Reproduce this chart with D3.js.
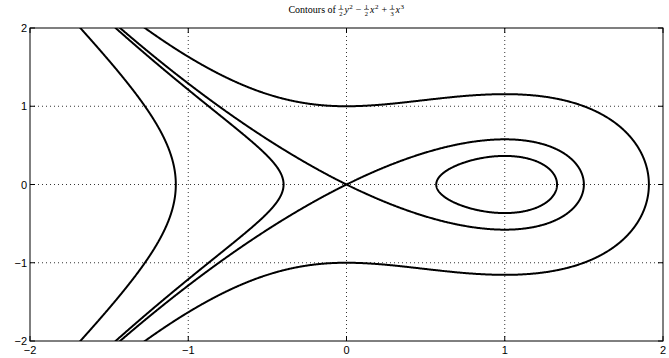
<!DOCTYPE html>
<html>
<head>
<meta charset="utf-8">
<script src="https://cdn.jsdelivr.net/npm/d3@7"></script>
<style>
  body { margin: 0; background: #fff; }
  svg { display: block; }
  .tick-label { font-family: "Liberation Sans", Arial, sans-serif; font-size: 11px; fill: #000; }
  .title { font-family: "Liberation Serif", "DejaVu Serif", serif; font-size: 10px; fill: #000; }
</style>
</head>
<body>
<div id="chart"></div>
<script>
// contour levels of H(x,y) = y^2/2 - x^2/2 + x^3/3
const levels = [-1, -0.1, 0, 0.5];
const xTicks = [-2, -1, 0, 1, 2];
const yTicks = [-2, -1, 0, 1, 2];
const xDomain = [-2, 2];
const yDomain = [-2, 2];

const width = 669;
const height = 358;
const margin = { top: 28, right: 6, bottom: 17, left: 30 };

const svg = d3.select("#chart").append("svg")
  .attr("width", width)
  .attr("height", height);

const x = d3.scaleLinear().domain(xDomain).range([margin.left, width - margin.right]);
const y = d3.scaleLinear().domain(yDomain).range([height - margin.bottom, margin.top]);

const H = (a, b) => b * b / 2 - a * a / 2 + a * a * a / 3;

// grille un peu plus large que le domaine, puis on coupe avec clipPath
const step = 0.005;
const g0 = -2.2, g1 = 2.2;
const n = Math.round((g1 - g0) / step) + 1;
const values = new Array(n * n);
for (let j = 0; j < n; j++) {
  for (let i = 0; i < n; i++) {
    values[i + j * n] = H(g0 + i * step, g0 + j * step);
  }
}

const contours = d3.contours().size([n, n]).thresholds(levels)(values);

const proj = d3.geoTransform({
  point: function (px, py) {
    this.stream.point(x(g0 + (px - 0.5) * step), y(g0 + (py - 0.5) * step));
  }
});
const path = d3.geoPath(proj);

svg.append("clipPath").attr("id", "clip")
  .append("rect")
  .attr("x", x(xDomain[0]))
  .attr("y", y(yDomain[1]))
  .attr("width", x(xDomain[1]) - x(xDomain[0]))
  .attr("height", y(yDomain[0]) - y(yDomain[1]));

// grille pointillée
const grid = svg.append("g");
grid.selectAll(".gx").data(xTicks.slice(1, -1)).join("line")
  .attr("x1", d => x(d)).attr("x2", d => x(d))
  .attr("y1", y(yDomain[1])).attr("y2", y(yDomain[0]))
  .attr("stroke", "#000").attr("stroke-width", 0.8)
  .attr("stroke-dasharray", "1,3");
grid.selectAll(".gy").data(yTicks.slice(1, -1)).join("line")
  .attr("y1", d => y(d)).attr("y2", d => y(d))
  .attr("x1", x(xDomain[0])).attr("x2", x(xDomain[1]))
  .attr("stroke", "#000").attr("stroke-width", 0.8)
  .attr("stroke-dasharray", "1,3");

// courbes de niveau
svg.append("g").attr("clip-path", "url(#clip)")
  .selectAll("path")
  .data(contours)
  .join("path")
  .attr("d", path)
  .attr("fill", "none")
  .attr("stroke", "#000")
  .attr("stroke-width", 2)
  .attr("stroke-linejoin", "round");

// cadre
svg.append("rect")
  .attr("x", x(xDomain[0]))
  .attr("y", y(yDomain[1]))
  .attr("width", x(xDomain[1]) - x(xDomain[0]))
  .attr("height", y(yDomain[0]) - y(yDomain[1]))
  .attr("fill", "none")
  .attr("stroke", "#000")
  .attr("stroke-width", 1);

// ticks vers l'intérieur, sur les quatre côtés
const tickLen = 5;
const ticks = svg.append("g").attr("stroke", "#000").attr("stroke-width", 1);
xTicks.forEach(t => {
  ticks.append("line").attr("x1", x(t)).attr("x2", x(t))
    .attr("y1", y(yDomain[0])).attr("y2", y(yDomain[0]) - tickLen);
  ticks.append("line").attr("x1", x(t)).attr("x2", x(t))
    .attr("y1", y(yDomain[1])).attr("y2", y(yDomain[1]) + tickLen);
});
yTicks.forEach(t => {
  ticks.append("line").attr("y1", y(t)).attr("y2", y(t))
    .attr("x1", x(xDomain[0])).attr("x2", x(xDomain[0]) + tickLen);
  ticks.append("line").attr("y1", y(t)).attr("y2", y(t))
    .attr("x1", x(xDomain[1])).attr("x2", x(xDomain[1]) - tickLen);
});

const fmt = d => (d < 0 ? "\u2212" : "") + Math.abs(d);

svg.append("g").selectAll("text").data(xTicks).join("text")
  .attr("class", "tick-label")
  .attr("x", d => x(d))
  .attr("y", y(yDomain[0]) + 13)
  .attr("text-anchor", "middle")
  .text(fmt);

svg.append("g").selectAll("text").data(yTicks).join("text")
  .attr("class", "tick-label")
  .attr("x", x(xDomain[0]) - 3)
  .attr("y", d => y(d) + 4)
  .attr("text-anchor", "end")
  .text(fmt);

// titre : "Contours of ½y² − ½x² + ⅓x³" avec fractions empilées
const title = svg.append("g").attr("class", "title");
const parts = [
  { t: "Contours of " },
  { frac: ["1", "2"] }, { t: "y", it: true }, { sup: "2" }, { t: " \u2212 " },
  { frac: ["1", "2"] }, { t: "x", it: true }, { sup: "2" }, { t: " + " },
  { frac: ["1", "3"] }, { t: "x", it: true }, { sup: "3" }
];
const baseY = 13;
let cx = 0;
parts.forEach(p => {
  if (p.frac) {
    const fw = 5;
    title.append("text").attr("x", cx + fw / 2).attr("y", baseY - 4.5)
      .attr("text-anchor", "middle").attr("font-size", 6.5).text(p.frac[0]);
    title.append("line").attr("x1", cx).attr("x2", cx + fw)
      .attr("y1", baseY - 3.5).attr("y2", baseY - 3.5)
      .attr("stroke", "#000").attr("stroke-width", 0.5);
    title.append("text").attr("x", cx + fw / 2).attr("y", baseY + 2.5)
      .attr("text-anchor", "middle").attr("font-size", 6.5).text(p.frac[1]);
    cx += fw + 1;
  } else if (p.sup) {
    const s = title.append("text").attr("x", cx).attr("y", baseY - 4)
      .attr("font-size", 7).text(p.sup);
    cx += s.node().getComputedTextLength() + 0.5;
  } else {
    const s = title.append("text").attr("x", cx).attr("y", baseY)
      .attr("xml:space", "preserve")
      .style("white-space", "pre")
      .attr("font-style", p.it ? "italic" : null).text(p.t);
    cx += s.node().getComputedTextLength() + (p.it ? 0.5 : 0);
  }
});
title.attr("transform", `translate(${(x(0) - cx / 2).toFixed(1)},0)`);
</script>
</body>
</html>
